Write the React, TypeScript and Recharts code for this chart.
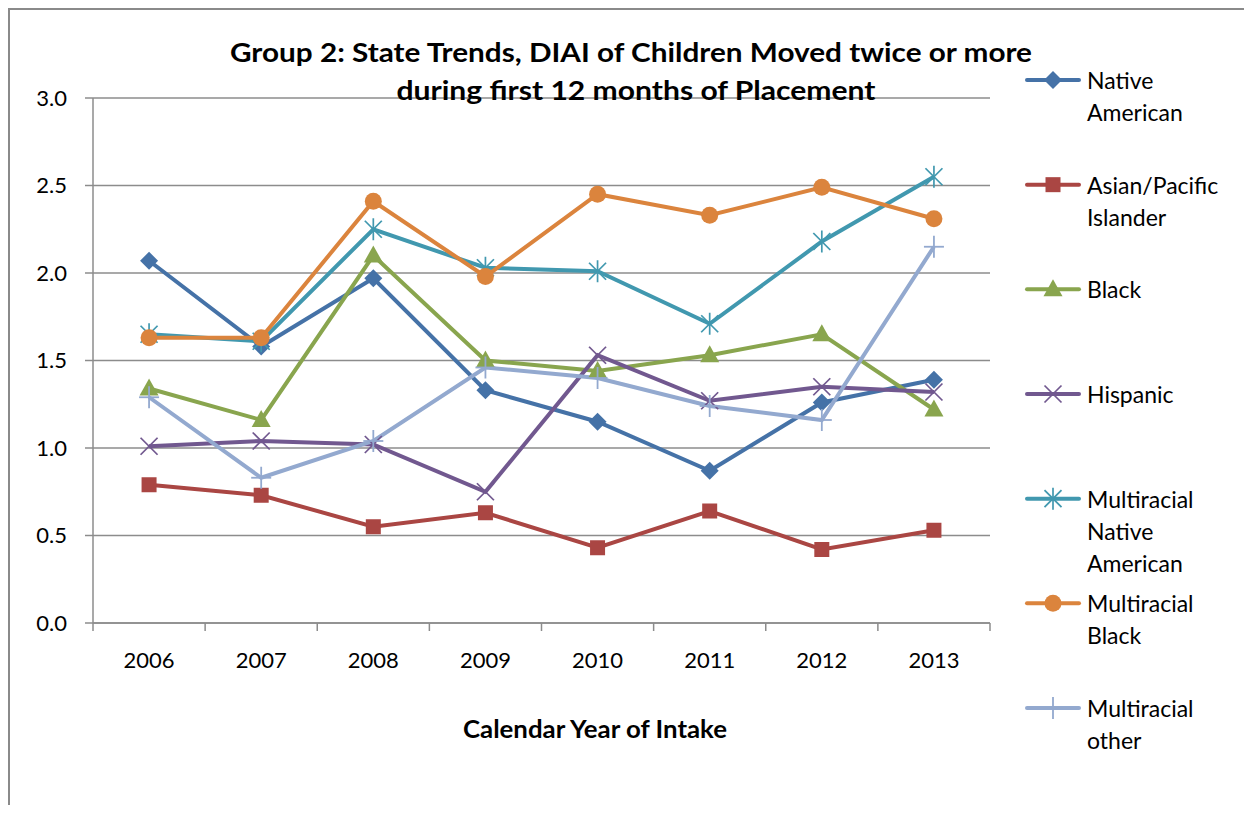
import React from "react";
import {
  LineChart,
  Line,
  XAxis,
  YAxis,
  CartesianGrid
} from "recharts";

// calendar year of intake
const years = ["2006", "2007", "2008", "2009", "2010", "2011", "2012", "2013"];

// DIAI per group, one value per year
const nativeAmerican = [2.07, 1.58, 1.97, 1.33, 1.15, 0.87, 1.26, 1.39];
const asianPacific = [0.79, 0.73, 0.55, 0.63, 0.43, 0.64, 0.42, 0.53];
const black = [1.34, 1.16, 2.1, 1.5, 1.44, 1.53, 1.65, 1.22];
const hispanic = [1.01, 1.04, 1.02, 0.75, 1.53, 1.27, 1.35, 1.32];
const multiNative = [1.65, 1.61, 2.25, 2.03, 2.01, 1.71, 2.18, 2.55];
const multiBlack = [1.63, 1.63, 2.41, 1.98, 2.45, 2.33, 2.49, 2.31];
const multiOther = [1.29, 0.83, 1.04, 1.46, 1.4, 1.24, 1.16, 2.15];

const yTicks = [0, 0.5, 1, 1.5, 2, 2.5, 3];

const titleLines = [
  "Group 2: State Trends, DIAI of Children Moved twice or more",
  "during first 12 months of Placement"
];
const xTitle = "Calendar Year of Intake";

type Shape = "diamond" | "square" | "triangle" | "x" | "star" | "circle" | "plus";

const series: { key: string; label: string[]; values: number[]; color: string; shape: Shape }[] = [
  { key: "na", label: ["Native", "American"], values: nativeAmerican, color: "#4572A7", shape: "diamond" },
  { key: "ap", label: ["Asian/Pacific", "Islander"], values: asianPacific, color: "#AA4643", shape: "square" },
  { key: "bl", label: ["Black"], values: black, color: "#89A54E", shape: "triangle" },
  { key: "hi", label: ["Hispanic"], values: hispanic, color: "#71588F", shape: "x" },
  { key: "mn", label: ["Multiracial", "Native", "American"], values: multiNative, color: "#4198AF", shape: "star" },
  { key: "mb", label: ["Multiracial", "Black"], values: multiBlack, color: "#DB843D", shape: "circle" },
  { key: "mo", label: ["Multiracial", "other"], values: multiOther, color: "#93A9CF", shape: "plus" }
];

const rows = years.map((year, i) => {
  const row: Record<string, string | number> = { year };
  series.forEach((s) => {
    row[s.key] = s.values[i];
  });
  return row;
});

const FONT = "Lato, 'Open Sans', sans-serif";
const GRID = "#8c8c8c";

// plot box inside the chart svg
const W = 1230;
const H = 795;
const PLOT_LEFT = 83;
const PLOT_RIGHT = 980;
const BAND = (PLOT_RIGHT - PLOT_LEFT) / years.length;

function Marker({ cx, cy, shape, color }: { cx: number; cy: number; shape: Shape; color: string }) {
  if (cx == null || cy == null) return null;
  switch (shape) {
    case "diamond":
      return <polygon points={`${cx},${cy - 9} ${cx + 9},${cy} ${cx},${cy + 9} ${cx - 9},${cy}`} fill={color} />;
    case "square":
      return <rect x={cx - 7.5} y={cy - 7.5} width={15} height={15} fill={color} />;
    case "triangle":
      return <polygon points={`${cx},${cy - 10} ${cx + 9.5},${cy + 7} ${cx - 9.5},${cy + 7}`} fill={color} />;
    case "circle":
      return <circle cx={cx} cy={cy} r={8.5} fill={color} />;
    case "x":
      return (
        <g stroke={color} strokeWidth={1.7}>
          <line x1={cx - 8.5} y1={cy - 8.5} x2={cx + 8.5} y2={cy + 8.5} />
          <line x1={cx - 8.5} y1={cy + 8.5} x2={cx + 8.5} y2={cy - 8.5} />
        </g>
      );
    case "star":
      return (
        <g stroke={color} strokeWidth={1.7}>
          <line x1={cx - 8.5} y1={cy - 8.5} x2={cx + 8.5} y2={cy + 8.5} />
          <line x1={cx - 8.5} y1={cy + 8.5} x2={cx + 8.5} y2={cy - 8.5} />
          <line x1={cx} y1={cy - 11} x2={cx} y2={cy + 11} />
        </g>
      );
    case "plus":
      return (
        <g stroke={color} strokeWidth={1.8}>
          <line x1={cx} y1={cy - 11} x2={cx} y2={cy + 11} />
          <line x1={cx - 10} y1={cy} x2={cx + 10} y2={cy} />
        </g>
      );
  }
  return null;
}

// year labels centred in each band, tick marks on the band edges
function YearTick(props: any) {
  const { x, y, payload, index, visibleTicksCount } = props;
  const half = BAND / 2;
  const last = index === visibleTicksCount - 1;
  return (
    <g>
      <line x1={x - half} x2={x - half} y1={y} y2={y + 8} stroke={GRID} strokeWidth={1.5} />
      {last && <line x1={x + half} x2={x + half} y1={y} y2={y + 8} stroke={GRID} strokeWidth={1.5} />}
      <text x={x} y={y + 45} textAnchor="middle" fontFamily={FONT} fontSize={22} fill="#000">
        {payload.value}
      </text>
    </g>
  );
}

export default function App() {
  return (
    <div
      style={{
        position: "relative",
        width: 1236,
        height: 797,
        boxSizing: "border-box",
        borderTop: "2px solid #8a8a8a",
        borderLeft: "2px solid #8a8a8a",
        overflow: "hidden",
        background: "#fff"
      }}
    >
      <LineChart
        width={W}
        height={H}
        data={rows}
        margin={{ top: 88, right: W - PLOT_RIGHT, bottom: 122, left: PLOT_LEFT - 60 }}
      >
        <CartesianGrid vertical={false} stroke={GRID} strokeWidth={1.5} />
        <XAxis
          dataKey="year"
          height={60}
          padding={{ left: BAND / 2, right: BAND / 2 }}
          axisLine={{ stroke: GRID, strokeWidth: 1.5 }}
          tickLine={false}
          tickSize={0}
          tickMargin={0}
          interval={0}
          tick={<YearTick />}
        />
        <YAxis
          width={60}
          domain={[0, 3]}
          ticks={yTicks}
          interval={0}
          tickFormatter={(v: number) => v.toFixed(1)}
          axisLine={{ stroke: GRID, strokeWidth: 1.5 }}
          tickLine={{ stroke: GRID, strokeWidth: 1.5 }}
          tickSize={8}
          tickMargin={18}
          tick={{ fontSize: 22, fill: "#000", fontFamily: FONT }}
        />
        {series.map((s) => (
          <Line
            key={s.key}
            type="linear"
            dataKey={s.key}
            stroke={s.color}
            strokeWidth={4}
            isAnimationActive={false}
            activeDot={false}
            dot={(p: any) => <Marker key={`${s.key}-${p.index}`} cx={p.cx} cy={p.cy} shape={s.shape} color={s.color} />}
          />
        ))}
      </LineChart>
      <svg width={W} height={H} style={{ position: "absolute", left: 0, top: 0, pointerEvents: "none" }}>
        <text x={621} y={52} textAnchor="middle" fontFamily={FONT} fontWeight="bold" fontSize={26} textLength={802} lengthAdjust="spacingAndGlyphs">
          {titleLines[0]}
        </text>
        <text x={626} y={90} textAnchor="middle" fontFamily={FONT} fontWeight="bold" fontSize={26} textLength={479} lengthAdjust="spacingAndGlyphs">
          {titleLines[1]}
        </text>
        <text x={585} y={728} textAnchor="middle" fontFamily={FONT} fontWeight="bold" fontSize={24} textLength={264} lengthAdjust="spacingAndGlyphs">
          {xTitle}
        </text>
        {series.map((s, i) => {
          const y = 70 + i * 104.67;
          return (
            <g key={s.key}>
              <line x1={1017} x2={1069} y1={y} y2={y} stroke={s.color} strokeWidth={4} strokeLinecap="round" />
              <Marker cx={1043} cy={y} shape={s.shape} color={s.color} />
              {s.label.map((t, j) => (
                <text key={t + j} x={1077} y={y + 9 + j * 32} fontFamily={FONT} fontSize={23} fill="#000">
                  {t}
                </text>
              ))}
            </g>
          );
        })}
      </svg>
    </div>
  );
}
